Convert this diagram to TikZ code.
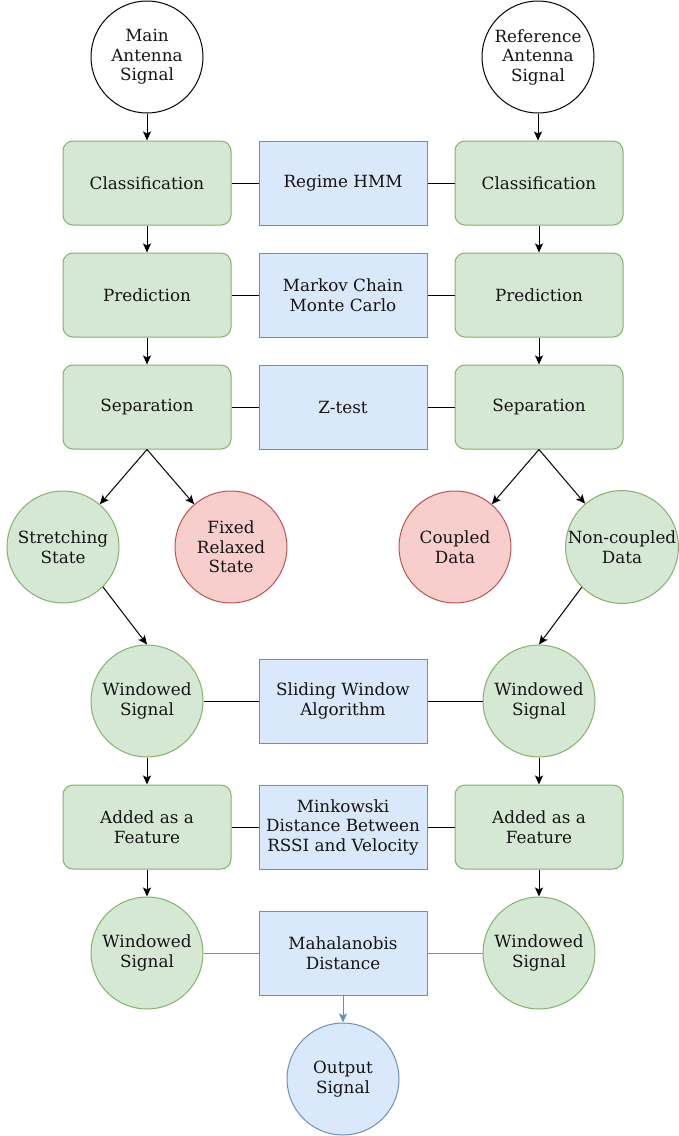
\documentclass[tikz,border=0pt]{standalone}
\usepackage{fontspec}
\setmainfont{DejaVu Serif}
\usetikzlibrary{arrows.meta}
\definecolor{gfill}{HTML}{D5E8D4}
\definecolor{gline}{HTML}{82B366}
\definecolor{bfill}{HTML}{DAE8FC}
\definecolor{bline}{HTML}{6C8EBF}
\definecolor{rfill}{HTML}{F8CECC}
\definecolor{rline}{HTML}{B85450}
\tikzset{
  base/.style={align=center, font=\fontsize{16.8}{19.5}\selectfont, text=black!92, line width=1pt, inner sep=0pt},
  gbox/.style={base, draw=gline, fill=gfill, rounded corners=10pt, minimum width=168pt, minimum height=84pt},
  bbox/.style={base, draw=bline, fill=bfill, minimum width=168pt, minimum height=84pt},
  circ/.style={base, circle, minimum size=112pt},
  wcirc/.style={circ, draw=black, fill=white},
  gcirc/.style={circ, draw=gline, fill=gfill},
  rcirc/.style={circ, draw=rline, fill=rfill},
  bcirc/.style={circ, draw=bline, fill=bfill},
  arr/.style={line width=1pt, -{Stealth[length=9pt,width=8pt,inset=2pt]}},
  con/.style={line width=1pt},
}
\begin{document}
\begin{tikzpicture}[x=1pt,y=-1pt]
\useasboundingbox (0,0) rectangle (679,1136);
\node[wcirc] (mainA) at (147,57) {Main\\Antenna\\Signal};
\node[wcirc] (refA) at (538,57) {Reference\\Antenna\\Signal};

\node[gbox] (clsL) at (147,183) {Classification};
\node[bbox] (hmm) at (343,183) {Regime HMM};
\node[gbox] (clsR) at (539,183) {Classification};

\node[gbox] (preL) at (147,295) {Prediction};
\node[bbox] (mcmc) at (343,295) {Markov Chain\\Monte Carlo};
\node[gbox] (preR) at (539,295) {Prediction};

\node[gbox] (sepL) at (147,407) {Separation};
\node[bbox] (ztest) at (343,407) {Z-test};
\node[gbox] (sepR) at (539,407) {Separation};

\node[gcirc] (stretch) at (63,547) {Stretching\\State};
\node[rcirc] (fixed) at (231,547) {Fixed\\Relaxed\\State};
\node[rcirc] (coupled) at (455,547) {Coupled\\Data};
\node[gcirc] (noncoup) at (622,547) {Non-coupled\\Data};

\node[gcirc] (winL) at (147,701) {Windowed\\Signal};
\node[bbox] (slide) at (343,701) {Sliding Window\\Algorithm};
\node[gcirc] (winR) at (539,701) {Windowed\\Signal};

\node[gbox] (addL) at (147,827) {Added as a\\Feature};
\node[bbox] (mink) at (343,827) {Minkowski\\Distance Between\\RSSI and Velocity};
\node[gbox] (addR) at (539,827) {Added as a\\Feature};

\node[gcirc] (win2L) at (147,953) {Windowed\\Signal};
\node[bbox] (maha) at (343,953) {Mahalanobis\\Distance};
\node[gcirc] (win2R) at (539,953) {Windowed\\Signal};

\node[bcirc] (out) at (343,1079) {Output\\Signal};

\draw[arr] (mainA) -- (clsL);
\draw[arr] (refA.south) -- (refA.south |- clsR.north);
\draw[arr] (clsL) -- (preL);
\draw[arr] (clsR) -- (preR);
\draw[arr] (preL) -- (sepL);
\draw[arr] (preR) -- (sepR);
\draw[con] (clsL) -- (hmm) -- (clsR);
\draw[con] (preL) -- (mcmc) -- (preR);
\draw[con] (sepL) -- (ztest) -- (sepR);
\draw[arr] (sepL.south) -- (stretch);
\draw[arr] (sepL.south) -- (fixed);
\draw[arr] (sepR.south) -- (coupled);
\draw[arr] (sepR.south) -- (noncoup);
\draw[arr] (stretch.south east) -- (winL.north);
\draw[arr] (noncoup.south west) -- (winR.north);
\draw[con] (winL) -- (slide) -- (winR);
\draw[arr] (winL) -- (addL);
\draw[arr] (winR) -- (addR);
\draw[con] (addL) -- (mink) -- (addR);
\draw[arr] (addL) -- (win2L);
\draw[arr] (addR) -- (win2R);
\draw[con, draw=bline] (win2L) -- (maha) -- (win2R);
\draw[arr, draw=bline, fill=bline] (maha) -- (out);
\end{tikzpicture}
\end{document}
